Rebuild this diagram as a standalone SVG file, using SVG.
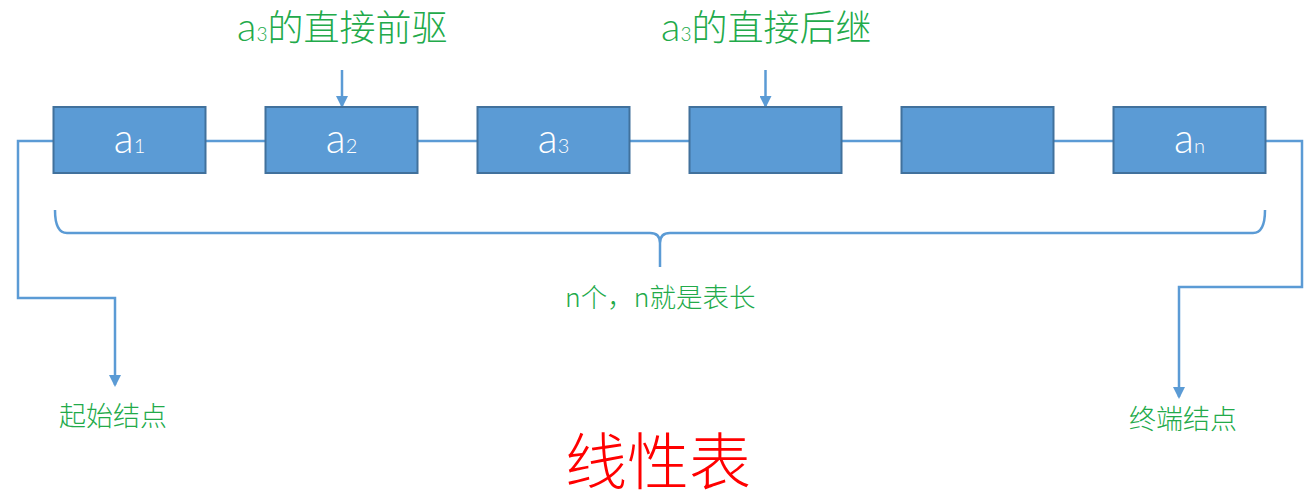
<svg xmlns="http://www.w3.org/2000/svg" width="1314" height="503" viewBox="0 0 1314 503">
<style>
.box{fill:#5B9BD5;stroke:#41719C;stroke-width:2}
.ln{fill:none;stroke:#5B9BD5;stroke-width:2.5}
.lbl{fill:#FFFFFF;font-family:"Lato","Noto Sans",sans-serif;font-weight:300;text-anchor:middle}
.g{fill:#22AA4A;font-family:"Noto Sans CJK SC","Noto Sans",sans-serif;font-weight:300}
.ga{font-family:"Lato","Noto Sans",sans-serif;font-weight:300}
.red{fill:#FF0000;font-family:"Noto Sans CJK SC",sans-serif;font-weight:300;text-anchor:middle}
</style>
<defs>
<marker id="arr" markerWidth="12" markerHeight="12" refX="10" refY="6" orient="auto" markerUnits="userSpaceOnUse">
<path d="M0,0 L12,6 L0,12 Z" fill="#5B9BD5"/>
</marker>
</defs>
<g id="connectors">
<line class="ln" x1="205" y1="141" x2="265.5" y2="141"/>
<line class="ln" x1="417" y1="141" x2="477.5" y2="141"/>
<line class="ln" x1="629" y1="141" x2="689.5" y2="141"/>
<line class="ln" x1="841" y1="141" x2="901.5" y2="141"/>
<line class="ln" x1="1053" y1="141" x2="1113.5" y2="141"/>
<path class="ln" d="M53,141 H18 V298 H115 V385" marker-end="url(#arr)"/>
<path class="ln" d="M1266,141 H1302 V287 H1179 V397" marker-end="url(#arr)"/>
<line class="ln" x1="342" y1="70" x2="342" y2="106" marker-end="url(#arr)"/>
<line class="ln" x1="765.5" y1="70" x2="765.5" y2="106" marker-end="url(#arr)"/>
<path class="ln" d="M55,210 Q55,233 67,233 H650 Q660,233 660,243 V267 M660,243 Q660,233 670,233 H1253 Q1265,233 1265,210"/>
</g>
<g id="n1"><rect class="box" x="53.5" y="107" width="152" height="66"/><text class="lbl" x="129.5" y="153"><tspan font-size="41">a</tspan><tspan font-size="20">1</tspan></text></g>
<g id="n2"><rect class="box" x="265.5" y="107" width="152" height="66"/><text class="lbl" x="341.5" y="153"><tspan font-size="41">a</tspan><tspan font-size="20">2</tspan></text></g>
<g id="n3"><rect class="box" x="477.5" y="107" width="152" height="66"/><text class="lbl" x="553.5" y="153"><tspan font-size="41">a</tspan><tspan font-size="20">3</tspan></text></g>
<g id="n4"><rect class="box" x="689.5" y="107" width="152" height="66"/></g>
<g id="n5"><rect class="box" x="901.5" y="107" width="152" height="66"/></g>
<g id="n6"><rect class="box" x="1113.5" y="107" width="152" height="66"/><text class="lbl" x="1189.5" y="153"><tspan font-size="41">a</tspan><tspan font-size="20">n</tspan></text></g>
<g id="labels">
<text class="g" x="237" y="41" font-size="36"><tspan class="ga" font-size="40">a</tspan><tspan class="ga" font-size="19">3</tspan>的直接前驱</text>
<text class="g" x="661" y="41" font-size="36"><tspan class="ga" font-size="40">a</tspan><tspan class="ga" font-size="19">3</tspan>的直接后继</text>
<text class="g" x="565" y="307" font-size="26.5">n个，n就是表长</text>
<text class="g" x="59" y="426" font-size="27">起始结点</text>
<text class="g" x="1129" y="429" font-size="27">终端结点</text>
<text class="red" x="658" y="485" font-size="62">线性表</text>
</g>
</svg>
